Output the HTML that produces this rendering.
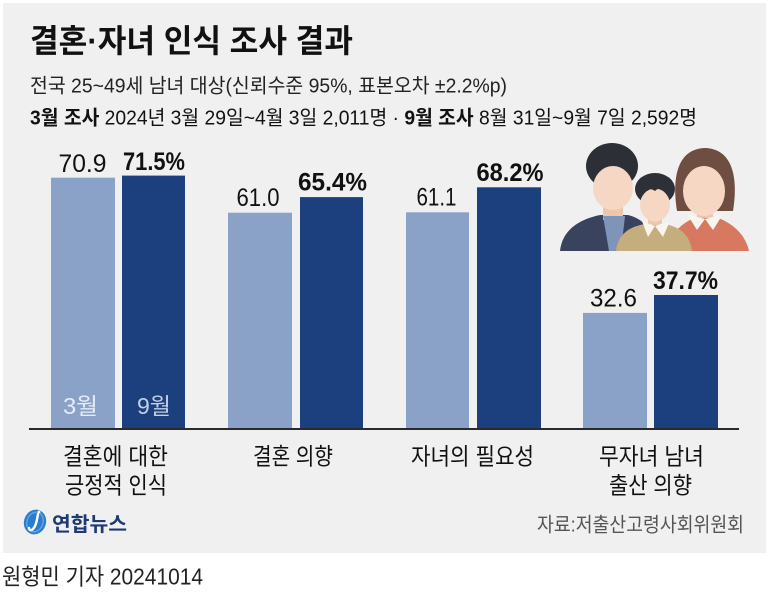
<!DOCTYPE html>
<html>
<head>
<meta charset="utf-8">
<style>
  html,body{margin:0;padding:0;background:#fff;}
  body{width:768px;height:593px;overflow:hidden;}
  svg{display:block;}
  text{font-family:"Liberation Sans","Noto Sans CJK KR",sans-serif;}
</style>
</head>
<body>
<svg width="768" height="593" viewBox="0 0 768 593" xmlns="http://www.w3.org/2000/svg">
  <rect x="0" y="0" width="768" height="593" fill="#ffffff"/>
  <rect x="3" y="3" width="763" height="550" fill="#f0f0f0"/>

  <!-- Title -->
  <text x="30" y="52" font-size="32" font-weight="700" fill="#111" textLength="323" lengthAdjust="spacingAndGlyphs">결혼·자녀 인식 조사 결과</text>

  <!-- Subtitles -->
  <text x="30" y="92.5" font-size="20" fill="#222" textLength="477" lengthAdjust="spacingAndGlyphs">전국 25~49세 남녀 대상(신뢰수준 95%, 표본오차 ±2.2%p)</text>
  <text x="30" y="124.5" font-size="20" fill="#111" textLength="667" lengthAdjust="spacingAndGlyphs"><tspan font-weight="700">3월 조사</tspan> 2024년 3월 29일~4월 3일 2,011명 · <tspan font-weight="700">9월 조사</tspan> 8월 31일~9월 7일 2,592명</text>

  <!-- Illustration -->
  <g>
    <!-- Man -->
    <path d="M560,251 C562,232 576,220 600,215 L628,215 C640,218 648,225 650,235 L650,251 Z" fill="#39435d"/>
    <rect x="603" y="198" width="20" height="22" fill="#ecc7ae"/>
    <polygon points="603,216 625,216 621,251 609,251" fill="#8094b8"/>
    <ellipse cx="612" cy="166" rx="26" ry="23" fill="#2c2f36"/>
    <ellipse cx="613" cy="188" rx="20" ry="22" fill="#f6d7c3"/>

    <!-- Woman -->
    <path d="M677,211 C672,180 676,149 705,148 C734,149 738,180 733,211 Z" fill="#6f4e42"/>
    <path d="M667,251 C670,232 685,220 700,216 L712,216 C728,220 745,232 749,251 Z" fill="#d77860"/>
    <rect x="697" y="200" width="16" height="18" fill="#ecc7ae"/>
    <polygon points="687,214 705,219 697,230" fill="#f8f4ee"/>
    <polygon points="723,214 705,219 713,230" fill="#f8f4ee"/>
    <ellipse cx="704" cy="191" rx="21" ry="25" fill="#f6d7c3"/>

    <!-- Child -->
    <path d="M616,251 C618,235 628,227 645,224 L665,224 C680,227 690,235 692,251 Z" fill="#c5ae7d"/>
    <rect x="648" y="210" width="14" height="15" fill="#ecc7ae"/>
    <polygon points="642,221 655,226 648,237" fill="#f8f4ee"/>
    <polygon points="670,221 655,226 663,237" fill="#f8f4ee"/>
    <ellipse cx="655" cy="189" rx="20" ry="16" fill="#2d3037"/>
    <ellipse cx="655" cy="205" rx="15" ry="16.5" fill="#f6d7c3"/>
    <path d="M640,196 C642,186 650,188 655,191 C660,186 668,186 670,196 L672,188 C668,180 642,180 638,190 Z" fill="#2d3037"/>
  </g>

  <!-- Bars -->
  <rect x="51" y="177.7" width="64" height="250.3" fill="#8aa1c8"/>
  <rect x="122" y="175.6" width="63" height="252.4" fill="#1c3f7e"/>
  <rect x="228" y="212.7" width="64" height="215.3" fill="#8aa1c8"/>
  <rect x="300" y="197.1" width="63" height="230.9" fill="#1c3f7e"/>
  <rect x="406" y="212.3" width="63" height="215.7" fill="#8aa1c8"/>
  <rect x="477" y="187.3" width="64" height="240.7" fill="#1c3f7e"/>
  <rect x="583" y="312.9" width="64" height="115.1" fill="#8aa1c8"/>
  <rect x="654" y="295" width="64" height="133" fill="#1c3f7e"/>

  <!-- Axis -->
  <rect x="29" y="428" width="710" height="2" fill="#2a2a2a"/>

  <!-- Value labels -->
  <text x="58.5" y="172" font-size="25" fill="#111" textLength="48" lengthAdjust="spacingAndGlyphs">70.9</text>
  <text x="123" y="170" font-size="25" font-weight="700" fill="#111" textLength="62" lengthAdjust="spacingAndGlyphs">71.5%</text>
  <text x="236.5" y="206" font-size="25" fill="#111" textLength="43" lengthAdjust="spacingAndGlyphs">61.0</text>
  <text x="298" y="190.5" font-size="25" font-weight="700" fill="#111" textLength="69" lengthAdjust="spacingAndGlyphs">65.4%</text>
  <text x="416.5" y="205.5" font-size="25" fill="#111" textLength="40" lengthAdjust="spacingAndGlyphs">61.1</text>
  <text x="476.5" y="181" font-size="25" font-weight="700" fill="#111" textLength="67" lengthAdjust="spacingAndGlyphs">68.2%</text>
  <text x="590" y="306.5" font-size="25" fill="#111" textLength="47" lengthAdjust="spacingAndGlyphs">32.6</text>
  <text x="653" y="289" font-size="25" font-weight="700" fill="#111" textLength="65" lengthAdjust="spacingAndGlyphs">37.7%</text>

  <!-- Legend in bars -->
  <text x="63" y="414" font-size="23" fill="#e6ecf6" textLength="35" lengthAdjust="spacingAndGlyphs">3월</text>
  <text x="137" y="414" font-size="23" fill="#c3cfe6" textLength="34" lengthAdjust="spacingAndGlyphs">9월</text>

  <!-- Category labels -->
  <text x="63" y="464.5" font-size="23.5" fill="#111" textLength="105" lengthAdjust="spacingAndGlyphs">결혼에 대한</text>
  <text x="65" y="493.5" font-size="23.5" fill="#111" textLength="102" lengthAdjust="spacingAndGlyphs">긍정적 인식</text>
  <text x="253" y="464.5" font-size="23.5" fill="#111" textLength="80" lengthAdjust="spacingAndGlyphs">결혼 의향</text>
  <text x="411" y="464.5" font-size="23.5" fill="#111" textLength="123" lengthAdjust="spacingAndGlyphs">자녀의 필요성</text>
  <text x="599" y="464.5" font-size="23.5" fill="#111" textLength="105" lengthAdjust="spacingAndGlyphs">무자녀 남녀</text>
  <text x="609" y="493.5" font-size="23.5" fill="#111" textLength="83" lengthAdjust="spacingAndGlyphs">출산 의향</text>

  <!-- Logo -->
  <g>
    <ellipse cx="35" cy="522" rx="11" ry="12.5" transform="rotate(20 35 522)" fill="#2b7ccc"/>
    <ellipse cx="35" cy="522" rx="8" ry="10" transform="rotate(20 35 522)" fill="none" stroke="#5aa6e6" stroke-width="1.5"/>
    <path d="M38,514 C37,520 36,526 33,529 C31,531 29,530 29,528" fill="none" stroke="#ffffff" stroke-width="2.4" stroke-linecap="round"/>
    <circle cx="39" cy="512" r="1.4" fill="#fff"/>
  </g>
  <text x="52" y="531" font-size="20" font-weight="700" fill="#1d3a72" textLength="75" lengthAdjust="spacingAndGlyphs">연합뉴스</text>

  <!-- Source -->
  <text x="537" y="531.5" font-size="20" fill="#555" textLength="207" lengthAdjust="spacingAndGlyphs">자료:저출산고령사회위원회</text>

  <!-- Byline -->
  <text x="2" y="584.5" font-size="23" fill="#222" textLength="201" lengthAdjust="spacingAndGlyphs">원형민 기자 20241014</text>
</svg>
</body>
</html>
